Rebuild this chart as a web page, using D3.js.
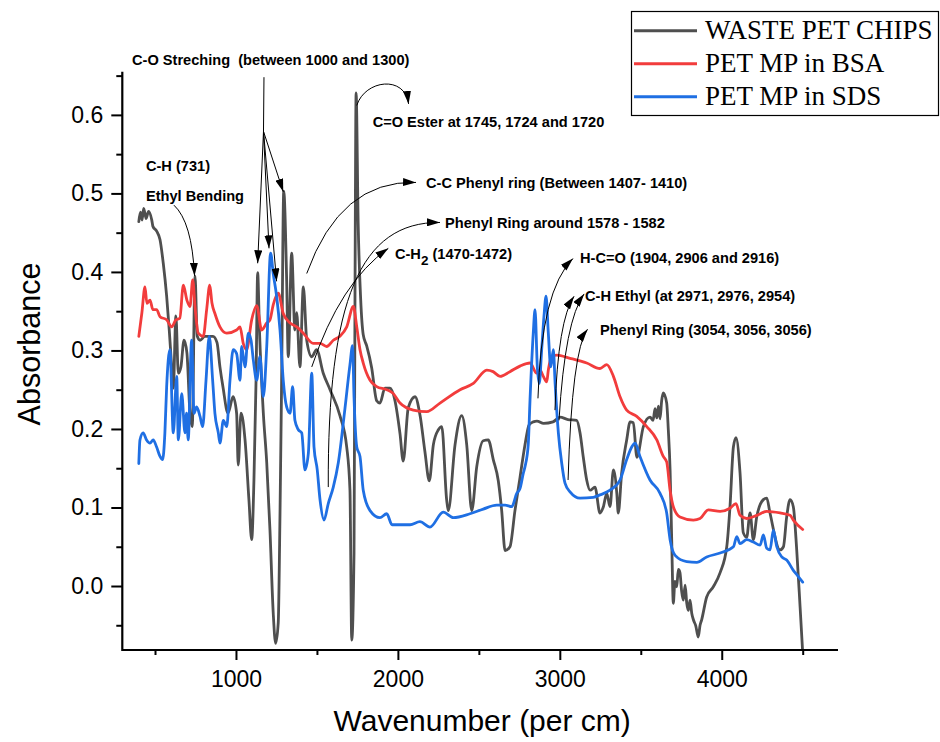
<!DOCTYPE html>
<html>
<head>
<meta charset="utf-8">
<script src="https://cdn.jsdelivr.net/npm/d3@7"></script>
<style>
  html, body { margin: 0; padding: 0; background: #fff; }
  svg { display: block; }
  .note { white-space: pre; }
</style>
</head>
<body>
<svg id="chart" width="940" height="742"></svg>
<script>
// ---- FTIR spectra (wavenumber in cm^-1, absorbance) ----
const seriesNames = ["WASTE PET CHIPS", "PET MP in BSA", "PET MP in SDS"];

const chipsWn = [400,410,420,430,445,460,480,487,510,531,551,572,588,603,613,629,644,660,679,697,716,730,747,761,778,808,858,883,901,920,951,982,1004,1014,1031,1056,1080,1097,1111,1124,1134,1145,1169,1190,1210,1230,1245,1261,1272,1282,1295,1313,1323,1344,1364,1375,1395,1416,1437,1468,1498,1539,1581,1642,1684,1704,1715,1729,1735,1742,1755,1770,1786,1807,1838,1869,1889,1920,1951,1982,2013,2033,2064,2106,2137,2167,2194,2219,2250,2271,2301,2311,2353,2394,2425,2456,2487,2527,2558,2589,2620,2641,2662,2692,2723,2754,2785,2810,2836,2859,2900,2958,3001,3050,3104,3125,3145,3166,3187,3217,3248,3269,3290,3310,3331,3352,3361,3382,3413,3434,3454,3476,3516,3557,3576,3588,3599,3609,3619,3629,3639,3660,3670,3681,3691,3701,3711,3722,3732,3742,3752,3763,3774,3784,3794,3804,3815,3825,3840,3855,3866,3876,3907,3948,3990,4031,4051,4072,4088,4113,4133,4154,4175,4195,4216,4257,4278,4298,4360,4381,4401,4422,4442,4463,4484,4500];
const chipsAbs = [0.464,0.476,0.466,0.481,0.468,0.477,0.466,0.458,0.452,0.441,0.411,0.369,0.326,0.279,0.252,0.344,0.271,0.279,0.313,0.297,0.220,0.203,0.395,0.318,0.313,0.318,0.318,0.310,0.279,0.253,0.220,0.241,0.220,0.154,0.220,0.186,0.110,0.059,0.135,0.262,0.399,0.326,0.220,0.157,0.071,-0.034,-0.073,-0.047,0.093,0.262,0.503,0.390,0.292,0.424,0.326,0.348,0.279,0.381,0.313,0.292,0.301,0.271,0.250,0.217,0.177,0.122,-0.069,0.041,0.366,0.628,0.459,0.366,0.320,0.306,0.278,0.236,0.233,0.252,0.252,0.236,0.194,0.159,0.227,0.241,0.217,0.171,0.134,0.180,0.199,0.203,0.110,0.096,0.180,0.217,0.180,0.096,0.152,0.185,0.186,0.161,0.134,0.096,0.045,0.050,0.096,0.138,0.180,0.205,0.209,0.210,0.207,0.209,0.215,0.212,0.211,0.195,0.164,0.135,0.122,0.126,0.093,0.101,0.118,0.101,0.148,0.118,0.093,0.144,0.186,0.209,0.208,0.164,0.203,0.215,0.211,0.226,0.214,0.229,0.213,0.236,0.246,0.233,0.199,0.148,0.059,-0.022,0.006,-0.001,0.021,0.017,-0.006,-0.018,0.001,-0.022,-0.031,-0.018,-0.035,-0.043,-0.051,-0.065,-0.050,-0.043,-0.014,-0.001,0.017,0.050,0.101,0.177,0.189,0.144,0.068,0.062,0.093,0.059,0.088,0.110,0.112,0.093,0.046,0.050,0.088,0.110,0.101,0.046,-0.027,-0.085];

const bsaWn = [400,419,438,450,469,487,510,531,572,603,629,653,675,697,716,733,747,767,798,819,838,852,870,901,943,1004,1025,1045,1066,1097,1128,1159,1190,1210,1230,1261,1292,1334,1375,1416,1477,1519,1560,1601,1642,1684,1725,1746,1766,1786,1828,1869,1931,1972,2013,2095,2178,2260,2384,2466,2549,2588,2631,2692,2754,2816,2857,2878,2898,2919,2929,2950,2981,3063,3166,3248,3290,3331,3372,3413,3475,3537,3599,3639,3660,3681,3701,3742,3825,3866,3917,3990,4051,4088,4113,4154,4216,4278,4360,4422,4442,4500];
const bsaAbs = [0.318,0.348,0.381,0.360,0.364,0.352,0.352,0.343,0.339,0.330,0.339,0.341,0.383,0.364,0.356,0.390,0.356,0.322,0.318,0.352,0.383,0.360,0.347,0.330,0.322,0.326,0.330,0.309,0.301,0.339,0.357,0.326,0.335,0.339,0.358,0.373,0.347,0.335,0.330,0.322,0.309,0.309,0.305,0.313,0.318,0.330,0.356,0.330,0.301,0.284,0.262,0.254,0.250,0.245,0.233,0.224,0.222,0.233,0.250,0.258,0.275,0.273,0.267,0.273,0.280,0.284,0.271,0.275,0.267,0.260,0.275,0.292,0.294,0.290,0.284,0.277,0.282,0.267,0.241,0.224,0.216,0.203,0.186,0.165,0.158,0.122,0.101,0.088,0.084,0.086,0.097,0.095,0.099,0.105,0.090,0.086,0.090,0.095,0.093,0.090,0.084,0.072];

const sdsWn = [400,407,427,448,469,489,510,531,547,561,572,592,613,634,644,665,685,695,705,726,741,757,778,794,815,835,856,870,891,901,922,943,963,983,1004,1025,1035,1056,1076,1093,1107,1128,1148,1169,1190,1214,1230,1251,1272,1292,1313,1334,1350,1364,1385,1406,1426,1447,1468,1482,1502,1519,1544,1570,1601,1632,1673,1704,1720,1729,1746,1766,1786,1828,1889,1931,1964,2075,2136,2198,2280,2342,2445,2527,2610,2662,2703,2734,2754,2775,2785,2805,2816,2836,2847,2861,2873,2888,2902,2915,2929,2944,2960,2971,2991,3012,3032,3063,3125,3207,3248,3310,3372,3413,3444,3465,3495,3557,3619,3660,3681,3712,3784,3846,3907,3990,4072,4093,4113,4154,4195,4237,4257,4278,4298,4319,4340,4371,4401,4442,4473,4500];
const sdsAbs = [0.156,0.186,0.195,0.186,0.182,0.186,0.177,0.165,0.161,0.195,0.254,0.301,0.195,0.267,0.186,0.245,0.195,0.220,0.186,0.313,0.220,0.228,0.216,0.203,0.262,0.318,0.262,0.220,0.195,0.182,0.211,0.203,0.262,0.301,0.296,0.262,0.305,0.279,0.322,0.313,0.288,0.262,0.292,0.241,0.305,0.424,0.398,0.369,0.326,0.262,0.228,0.220,0.254,0.211,0.199,0.195,0.148,0.169,0.271,0.177,0.148,0.110,0.084,0.105,0.126,0.157,0.226,0.282,0.306,0.241,0.177,0.165,0.122,0.096,0.087,0.092,0.078,0.078,0.082,0.075,0.094,0.087,0.092,0.098,0.103,0.103,0.101,0.118,0.124,0.144,0.152,0.180,0.237,0.322,0.352,0.279,0.258,0.301,0.343,0.369,0.322,0.279,0.301,0.258,0.195,0.156,0.131,0.120,0.112,0.113,0.116,0.122,0.135,0.161,0.177,0.182,0.165,0.135,0.118,0.093,0.059,0.039,0.031,0.030,0.037,0.042,0.050,0.063,0.054,0.059,0.056,0.052,0.065,0.048,0.046,0.071,0.050,0.037,0.033,0.020,0.012,0.005];

// axis ticks
const xMajorTicks = [1000, 2000, 3000, 4000];
const xMinorTicks = [500, 1500, 2500, 3500, 4500];
const yMajorTicks = [0.0, 0.1, 0.2, 0.3, 0.4, 0.5, 0.6];
const yMinorTicks = [-0.05, 0.05, 0.15, 0.25, 0.35, 0.45, 0.55, 0.65];

// ---- layout ----
const svg = d3.select("#chart");
const plot = { left: 122.3, right: 838, top: 71.7, bottom: 650 };
const x = d3.scaleLinear().domain([298, 4718]).range([plot.left, plot.right]);
const y = d3.scaleLinear().domain([-0.0815, 0.655]).range([plot.bottom, plot.top]);

const sansFont = "'Liberation Sans', Arial, Helvetica, sans-serif";
const serifFont = "'Liberation Serif', 'Times New Roman', serif";
const colors = ["#4f4f4f", "#f23c3c", "#1f6fe3"];

const series = [
  { name: seriesNames[0], wn: chipsWn, ab: chipsAbs, color: colors[0] },
  { name: seriesNames[1], wn: bsaWn, ab: bsaAbs, color: colors[1] },
  { name: seriesNames[2], wn: sdsWn, ab: sdsAbs, color: colors[2] }
];

// clip spectra to the plotting frame
svg.append("defs").append("clipPath").attr("id", "plotClip")
  .append("rect")
  .attr("x", plot.left).attr("y", plot.top)
  .attr("width", plot.right - plot.left).attr("height", plot.bottom - plot.top);

// arrowhead marker
svg.select("defs").append("marker")
  .attr("id", "arrowHead")
  .attr("viewBox", "0 0 13 8")
  .attr("refX", 13).attr("refY", 4)
  .attr("markerWidth", 13).attr("markerHeight", 8)
  .attr("markerUnits", "userSpaceOnUse")
  .attr("orient", "auto")
  .append("path").attr("d", "M0,0 L13,4 L0,8 Z").attr("fill", "#000");

const line = d3.line()
  .x((d) => x(d[0]))
  .y((d) => y(d[1]))
  .curve(d3.curveMonotoneX);

const spectra = svg.append("g").attr("clip-path", "url(#plotClip)");
// grey first, then red, then blue on top
series.forEach((s) => {
  spectra.append("path")
    .datum(d3.zip(s.wn, s.ab))
    .attr("d", line)
    .attr("fill", "none")
    .attr("stroke", s.color)
    .attr("stroke-width", 2.8)
    .attr("stroke-linejoin", "round")
    .attr("stroke-linecap", "round");
});

// ---- axes ----
function styleAxis(g) {
  g.selectAll(".domain").remove();
  g.selectAll(".tick line").attr("stroke", "#000").attr("stroke-width", 2);
  g.selectAll(".tick text")
    .attr("fill", "#000")
    .style("font-family", sansFont)
    .style("font-size", "23px");
}

const gxMinor = svg.append("g").attr("transform", `translate(0,${plot.bottom})`)
  .call(d3.axisBottom(x).tickValues(xMinorTicks).tickSize(5).tickFormat(""));
styleAxis(gxMinor);
const gx = svg.append("g").attr("transform", `translate(0,${plot.bottom})`)
  .call(d3.axisBottom(x).tickValues(xMajorTicks).tickSize(10).tickPadding(11).tickFormat(d3.format("d")));
styleAxis(gx);

const gyMinor = svg.append("g").attr("transform", `translate(${plot.left},0)`)
  .call(d3.axisLeft(y).tickValues(yMinorTicks).tickSize(6).tickFormat(""));
styleAxis(gyMinor);
const gy = svg.append("g").attr("transform", `translate(${plot.left},0)`)
  .call(d3.axisLeft(y).tickValues(yMajorTicks).tickSize(11).tickPadding(8).tickFormat(d3.format(".1f")));
styleAxis(gy);

// axis lines
svg.append("line")
  .attr("x1", plot.left).attr("x2", plot.right)
  .attr("y1", plot.bottom).attr("y2", plot.bottom)
  .attr("stroke", "#000").attr("stroke-width", 2.2);
svg.append("line")
  .attr("x1", plot.left).attr("x2", plot.left)
  .attr("y1", plot.top).attr("y2", plot.bottom + 1)
  .attr("stroke", "#000").attr("stroke-width", 2.2);

// axis titles
svg.append("text")
  .attr("x", (plot.left + plot.right) / 2 + 2)
  .attr("y", 731)
  .attr("text-anchor", "middle")
  .style("font-family", sansFont)
  .style("font-size", "30px")
  .text("Wavenumber (per cm)");

svg.append("text")
  .attr("transform", "translate(40,344) rotate(-90)")
  .attr("text-anchor", "middle")
  .style("font-family", sansFont)
  .style("font-size", "30.5px")
  .text("Absorbance");

// ---- band assignments ----
const notes = [
  { t: "C-O Streching  (between 1000 and 1300)", wn: 358, ab: 0.663 },
  { t: "C=O Ester at 1745, 1724 and 1720", wn: 1844, ab: 0.585 },
  { t: "C-H (731)", wn: 444, ab: 0.529 },
  { t: "Ethyl Bending", wn: 444, ab: 0.490 },
  { t: "C-C Phenyl ring (Between 1407- 1410)", wn: 2174, ab: 0.507 },
  { t: "Phenyl Ring around 1578 - 1582", wn: 2291, ab: 0.456 },
  { t: "H-C=O (1904, 2906 and 2916)", wn: 3125, ab: 0.412 },
  { t: "C-H Ethyl (at 2971, 2976, 2954)", wn: 3156, ab: 0.363 },
  { t: "Phenyl Ring (3054, 3056, 3056)", wn: 3248, ab: 0.320 }
];

const noteLayer = svg.append("g")
  .style("font-family", sansFont)
  .style("font-size", "14.6px")
  .style("font-weight", "bold")
  .attr("fill", "#000");

notes.forEach((n) => {
  noteLayer.append("text")
    .attr("class", "note")
    .attr("x", x(n.wn)).attr("y", y(n.ab))
    .text(n.t);
});

// label with a subscript
const ch2 = noteLayer.append("text").attr("class", "note")
  .attr("x", x(1982)).attr("y", y(0.417));
ch2.append("tspan").text("C-H");
ch2.append("tspan").attr("dy", 6).style("font-size", "13.5px").text("2");
ch2.append("tspan").attr("dy", -6).text(" (1470-1472)");

// leader lines (points in wavenumber / absorbance)
const leaders = [
  { pts: [[1173, 0.648], [1170, 0.579]], head: false },
  { pts: [[1170, 0.579], [1134, 0.411]], head: true },
  { pts: [[1170, 0.579], [1204, 0.430]], head: true },
  { pts: [[1170, 0.579], [1251, 0.388]], head: true },
  { pts: [[1170, 0.579], [1292, 0.502]], head: true },
  { pts: [[1746, 0.612], [1797, 0.645], [2044, 0.651], [2066, 0.614]], head: true },
  { pts: [[617, 0.485], [728, 0.464], [744, 0.395]], head: true },
  { pts: [[1437, 0.398], [1643, 0.517], [2112, 0.514]], head: true },
  { pts: [[1570, 0.126], [1565, 0.364], [1766, 0.464], [2260, 0.463]], head: true },
  { pts: [[1468, 0.279], [1643, 0.387], [1941, 0.430]], head: true },
  { pts: [[2865, 0.239], [2884, 0.377], [3081, 0.417]], head: true },
  { pts: [[2970, 0.224], [2989, 0.339], [3088, 0.369]], head: true },
  { pts: [[2995, 0.211], [3032, 0.339], [3150, 0.372]], head: true },
  { pts: [[3051, 0.135], [3075, 0.301], [3171, 0.327]], head: true }
];

function leaderPath(pts) {
  const p = d3.path();
  const q = pts.map((d) => [x(d[0]), y(d[1])]);
  p.moveTo(q[0][0], q[0][1]);
  if (q.length === 2) p.lineTo(q[1][0], q[1][1]);
  else if (q.length === 3) p.quadraticCurveTo(q[1][0], q[1][1], q[2][0], q[2][1]);
  else p.bezierCurveTo(q[1][0], q[1][1], q[2][0], q[2][1], q[3][0], q[3][1]);
  return p.toString();
}

const leaderLayer = svg.append("g");
leaders.forEach((l) => {
  leaderLayer.append("path")
    .attr("d", leaderPath(l.pts))
    .attr("fill", "none")
    .attr("stroke", "#000")
    .attr("stroke-width", 1)
    .attr("marker-end", l.head ? "url(#arrowHead)" : null);
});

// ---- legend ----
const legend = svg.append("g");
legend.append("rect")
  .attr("x", 631.5).attr("y", 11.5)
  .attr("width", 307).attr("height", 104)
  .attr("fill", "#fff").attr("stroke", "#000").attr("stroke-width", 1.2);

series.forEach((s, i) => {
  const cy = 30.8 + i * 33;
  legend.append("line")
    .attr("x1", 634).attr("x2", 697)
    .attr("y1", cy).attr("y2", cy)
    .attr("stroke", s.color).attr("stroke-width", 3);
  legend.append("text")
    .attr("x", 705).attr("y", cy + 8)
    .style("font-family", serifFont)
    .style("font-size", "27px")
    .attr("fill", "#000")
    .text(s.name);
});
</script>
</body>
</html>
